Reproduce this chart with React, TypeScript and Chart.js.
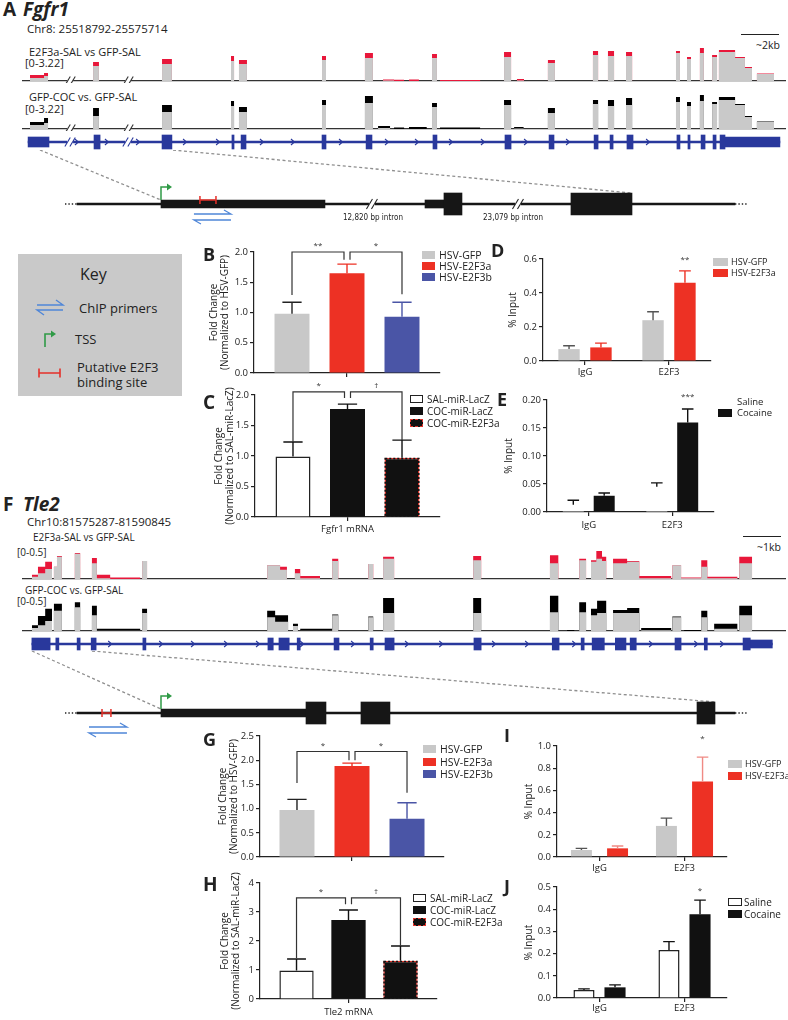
import React, { useEffect, useRef } from 'react';
import { Chart, registerables } from 'chart.js';

Chart.register(...registerables);

const FONT = '"Open Sans", "DejaVu Sans", Arial, sans-serif';
Chart.defaults.font.family = FONT;
Chart.defaults.color = '#222';

// ---------------- colours ----------------
const GRAY = '#c8c8c8';
const RED = '#ed3124';
const BLUE = '#4a55a6';
const BLACK = '#111111';
const IGV_BLUE = '#29389c';
const TRACK_GRAY = '#c9c9c9';
const TRACK_RED = '#e8173a';

// ================= PANEL A: Fgfr1 (IGV window, x in kb, signal in track units) =================
const fgfr1WindowKb = 40.21;
const fgfr1TrackMax = 3.22;
// [start kb, end kb, GFP-SAL signal, comparison signal]
const fgfr1E2f3aPeaks = [
  [0.42, 1.16, 0.28, 0.57], [1.16, 1.37, 0.47, 0.76], [3.74, 4.05, 1.42, 1.8], [7.37, 7.89, 1.61, 2.08],
  [11.0, 11.16, 1.89, 2.37], [11.42, 11.84, 1.61, 1.99], [15.79, 16.0, 1.99, 2.37], [18.05, 18.47, 2.18, 2.65],
  [19.0, 19.58, 0.05, 0.14], [19.58, 20.11, 0, 0.12], [20.37, 20.89, 0, 0.14], [21.58, 21.84, 2.18, 2.56],
  [22.0, 24.11, 0, 0.1], [25.37, 25.74, 2.27, 2.75], [26.05, 26.42, 0.05, 0.19], [27.68, 28.05, 1.7, 1.99],
  [30.05, 30.32, 2.46, 2.84], [30.84, 31.16, 2.37, 2.84], [31.79, 32.11, 2.37, 2.75], [34.42, 34.63, 2.65, 2.84],
  [35.0, 35.21, 2.08, 2.27], [35.68, 35.89, 2.65, 3.12], [36.32, 36.58, 2.27, 2.46], [36.68, 37.53, 2.75, 2.94],
  [37.53, 38.05, 2.18, 2.27], [38.05, 38.42, 1.23, 1.33], [38.68, 39.58, 0.66, 0.71],
];
const fgfr1CocPeaks = [
  [0.42, 1.16, 0.38, 0.66], [1.16, 1.37, 0.57, 1.04], [3.74, 4.05, 1.23, 1.99], [7.37, 7.89, 1.61, 2.27],
  [11.0, 11.16, 2.18, 2.65], [11.42, 11.84, 1.61, 2.08], [15.79, 16.0, 2.27, 2.75], [18.05, 18.47, 2.46, 3.12],
  [18.74, 19.37, 0.09, 0.28], [19.58, 20.11, 0, 0.14], [20.37, 21.3, 0, 0.19], [21.58, 21.84, 2.08, 2.46],
  [22.0, 24.11, 0, 0.15], [25.37, 25.74, 2.27, 2.75], [25.9, 26.4, 0.05, 0.19], [27.68, 28.05, 1.52, 1.99],
  [30.05, 30.32, 2.37, 2.75], [30.84, 31.16, 2.18, 2.75], [31.79, 32.11, 2.27, 2.94], [34.42, 34.63, 2.56, 3.03],
  [35.0, 35.21, 2.18, 2.56], [35.68, 35.89, 2.65, 3.22], [36.32, 36.58, 2.37, 2.56], [36.68, 37.53, 2.75, 3.03],
  [37.53, 38.05, 2.27, 2.37], [38.05, 38.42, 1.14, 1.23], [38.68, 39.58, 0.66, 0.71],
];
const fgfr1Exons = [
  [3.79, 4.11], [7.37, 7.89], [11.05, 11.16], [11.53, 11.79], [15.79, 16.0], [18.11, 18.42], [21.63, 21.84],
  [25.42, 25.74], [27.74, 28.0], [30.11, 30.32], [30.95, 31.11], [31.84, 32.16], [34.47, 34.63], [35.05, 35.16],
  [35.74, 35.95], [36.37, 36.53], [36.74, 37.0],
];
const fgfr1Utrs = [[0.32, 1.42], [37.0, 39.89]];
const fgfr1GeneSpan = [0.32, 39.89];
const fgfr1StrandMarks = [2.89, 4.47, 6.11, 8.58, 10.32, 12.63, 14.26, 16.79, 19.21, 20.79, 22.58, 24.26, 26.53, 28.74, 32.95];
const fgfr1AxisBreaks = [2.53, 5.58];

// ================= PANEL F: Tle2 =================
const tle2WindowKb = 20.1;
const tle2TrackMax = 0.5;
const tle2E2f3aPeaks = [
  [0.26, 0.42, 0.03, 0.06], [0.42, 0.61, 0.08, 0.17], [0.61, 0.79, 0.14, 0.24], [0.84, 0.92, 0.17, 0.17],
  [0.92, 1.05, 0.31, 0.32], [1.39, 1.53, 0.35, 0.36], [1.84, 1.97, 0.22, 0.29], [1.97, 2.32, 0.01, 0.06],
  [2.32, 3.11, 0, 0.02], [3.16, 3.29, 0.25, 0.25], [6.45, 6.79, 0.19, 0.19], [6.79, 6.97, 0.13, 0.17],
  [7.18, 7.32, 0.08, 0.14], [7.32, 7.84, 0.01, 0.04], [8.16, 8.32, 0.25, 0.28], [9.11, 9.24, 0.21, 0.21],
  [9.5, 9.79, 0.28, 0.31], [11.87, 12.08, 0.26, 0.32], [13.89, 14.11, 0.22, 0.33], [14.66, 14.84, 0.26, 0.28],
  [14.97, 15.11, 0.24, 0.26], [15.11, 15.26, 0.28, 0.39], [15.26, 15.37, 0.25, 0.31], [15.55, 15.92, 0.22, 0.28],
  [15.92, 16.24, 0.24, 0.25], [16.24, 17.08, 0.01, 0.04], [17.11, 17.34, 0.19, 0.19], [17.34, 17.87, 0.01, 0.02],
  [17.87, 18.03, 0.17, 0.26], [18.03, 18.82, 0.01, 0.03], [18.87, 19.21, 0.22, 0.31],
];
const tle2CocPeaks = [
  [0.26, 0.42, 0.04, 0.08], [0.42, 0.61, 0.08, 0.21], [0.61, 0.79, 0.14, 0.31], [0.84, 1.05, 0.28, 0.38],
  [1.39, 1.53, 0.33, 0.4], [1.84, 1.97, 0.22, 0.35], [1.97, 3.11, 0.005, 0.03], [3.16, 3.29, 0.25, 0.31],
  [6.45, 6.66, 0.19, 0.28], [6.66, 7.0, 0.13, 0.22], [7.13, 7.26, 0.07, 0.1], [7.32, 8.16, 0.005, 0.03],
  [8.16, 8.32, 0.22, 0.23], [9.11, 9.24, 0.19, 0.2], [9.5, 9.79, 0.25, 0.46], [11.87, 12.08, 0.25, 0.46],
  [13.89, 14.11, 0.26, 0.49], [14.34, 14.53, 0, 0.015], [14.66, 14.84, 0.26, 0.4], [14.97, 15.13, 0.22, 0.31],
  [15.13, 15.37, 0.25, 0.42], [15.55, 15.92, 0.25, 0.29], [15.92, 16.24, 0.25, 0.32], [16.29, 17.08, 0.01, 0.04],
  [17.11, 17.34, 0.19, 0.2], [17.42, 17.87, 0, 0.014], [17.87, 18.03, 0.19, 0.28], [18.21, 18.82, 0.03, 0.1],
  [18.87, 19.21, 0.22, 0.35],
];
const tle2Exons = [
  [0.26, 0.74], [0.89, 0.97], [1.45, 1.53], [1.82, 1.95], [3.18, 3.26], [6.47, 6.61], [6.76, 7.03], [7.24, 7.32],
  [8.21, 8.34], [9.16, 9.24], [9.55, 9.79], [11.89, 12.08], [13.95, 14.13], [14.71, 14.79], [15.0, 15.32],
  [15.61, 15.89], [16.0, 16.16], [17.18, 17.34], [17.95, 18.03], [18.97, 19.16],
];
const tle2Utrs = [[19.16, 19.74]];
const tle2GeneSpan = [0.26, 19.74];
const tle2StrandMarks = [2.32, 3.66, 4.5, 5.37, 6.21, 7.37, 8.71, 10.13, 11.03, 12.42, 13.29, 14.53, 16.55, 17.74, 18.42];

// ================= zoomed gene diagrams (schematic units) =================
const diagramRange = [-8.06, 104.84];
const diagramDots = [0, 100];
const fgfr1DiagramSpan = [1.76, 98.24];
const fgfr1DiagramThin = [[14.08, 38.12], [52.79, 55.57]];
const fgfr1DiagramThick = [[55.57, 58.21], [74.19, 83.14]];
const fgfr1DiagramBreaks = [45.01, 66.42];
const fgfr1DiagramTss = 14.08;
const fgfr1DiagramSite = [19.79, 22.14];
const fgfr1DiagramPrimers = [18.91, 24.34];
const fgfr1IntronLabels = ['12,820 bp intron', '23,079 bp intron'];
const fgfr1IntronLabelAt = [45.16, 65.69];
const fgfr1ZoomFrom = [-3.67, 15.84];
const fgfr1ZoomTo = [14.08, 83.14];

const tle2DiagramSpan = [1.76, 98.24];
const tle2DiagramThin = [[14.08, 35.34]];
const tle2DiagramThick = [[35.34, 38.27], [43.4, 47.65], [92.67, 95.31]];
const tle2DiagramTss = 14.08;
const tle2DiagramSite = [5.43, 6.74];
const tle2DiagramPrimers = [3.52, 9.09];
const tle2ZoomFrom = [-4.84, 3.96];
const tle2ZoomTo = [14.08, 95.31];

// ================= bar panels =================
const hsv3Series = ['HSV-GFP', 'HSV-E2F3a', 'HSV-E2F3b'];
const mir3Series = ['SAL-miR-LacZ', 'COC-miR-LacZ', 'COC-miR-E2F3a'];
const hsv2Series = ['HSV-GFP', 'HSV-E2F3a'];
const drugSeries = ['Saline', 'Cocaine'];
const chipGroups = ['IgG', 'E2F3'];

const panelBGroups = [''];
const panelBMeans = [[0.98], [1.65], [0.93]];
const panelBErrTop = [[1.17], [1.8], [1.17]];

const panelCGroups = ['Fgfr1 mRNA'];
const panelCMeans = [[0.99], [1.77], [0.97]];
const panelCErrTop = [[1.23], [1.85], [1.26]];

const panelDMeans = [[0.07, 0.24], [0.08, 0.46]];
const panelDErrTop = [[0.09, 0.29], [0.105, 0.53]];

const panelEMeans = [[0.013, 0.045], [0.029, 0.16]];
const panelEErrTop = [[0.021, 0.052], [0.034, 0.184]];

const panelGGroups = [''];
const panelGMeans = [[0.97], [1.88], [0.79]];
const panelGErrTop = [[1.19], [1.94], [1.12]];

const panelHGroups = ['Tle2 mRNA'];
const panelHMeans = [[0.98], [2.72], [1.32]];
const panelHErrTop = [[1.38], [3.07], [1.83]];

const panelIMeans = [[0.063, 0.28], [0.078, 0.68]];
const panelIErrTop = [[0.078, 0.35], [0.099, 0.9]];

const panelJMeans = [[0.036, 0.216], [0.048, 0.377]];
const panelJErrTop = [[0.041, 0.254], [0.059, 0.441]];

// ---------------- helpers ----------------
function drawBreak(ctx: CanvasRenderingContext2D, p: number, y: number, color: string, h: number) {
  ctx.save();
  ctx.fillStyle = '#fff';
  ctx.fillRect(p - 3, y - 2, 6, 4);
  ctx.strokeStyle = color;
  ctx.lineWidth = 1.1;
  ctx.setLineDash([]);
  for (const d of [-2.5, 2.5]) {
    ctx.beginPath();
    ctx.moveTo(p + d - h * 0.3, y + h / 2);
    ctx.lineTo(p + d + h * 0.3, y - h / 2);
    ctx.stroke();
  }
  ctx.restore();
}

const base = { animation: false, responsive: false, maintainAspectRatio: false, devicePixelRatio: 1 };
const noPlugins = { legend: { display: false }, tooltip: { enabled: false } };

function trackConfig(peaks: number[][], color: string, yMax: number, kMax: number, breaks: number[]) {
  const under: any[] = [];
  const over: any[] = [];
  for (const [s, e, g, t] of peaks) {
    under.push({ x: s, y: 0 }, { x: s, y: g }, { x: e, y: g }, { x: e, y: 0 });
    over.push({ x: s, y: 0 }, { x: s, y: t }, { x: e, y: t }, { x: e, y: 0 });
  }
  const common = { pointRadius: 0, borderWidth: 0, borderColor: 'rgba(0,0,0,0)', fill: 'origin', tension: 0 };
  return {
    type: 'line',
    data: {
      datasets: [
        { ...common, label: 'GFP-SAL', data: under, backgroundColor: TRACK_GRAY },
        { ...common, label: 'comparison', data: over, backgroundColor: color },
      ],
    },
    options: {
      ...base,
      layout: { padding: { top: 0, left: 0, right: 0, bottom: 2 } },
      plugins: noPlugins,
      scales: {
        x: {
          type: 'linear', min: 0, max: kMax,
          grid: { display: false }, ticks: { display: false },
          border: { display: true, color: '#333', width: 1.3 },
          afterFit: (sc: any) => { sc.height = 0; },
        },
        y: { type: 'linear', min: 0, max: yMax, display: false },
      },
    },
    plugins: [{
      id: 'trackBreaks',
      afterDraw(chart: any) {
        const x = chart.scales.x;
        breaks.forEach((k) => drawBreak(chart.ctx, x.getPixelForValue(k), chart.chartArea.bottom, '#333', 9));
      },
    }],
  };
}

function geneConfig(exons: number[][], utrs: number[][], span: number[], kMax: number, marks: number[], breaks: number[], exonH: number, utrH: number) {
  const row = 'gene';
  const bars = (a: number[][]) => a.map(([s, e]) => ({ x: [s, e], y: row }));
  const ds = (data: any[], th: number) => ({ data, backgroundColor: IGV_BLUE, barThickness: th, grouped: false, borderWidth: 0 });
  return {
    type: 'bar',
    data: { labels: [row], datasets: [ds(bars(exons), exonH), ds(bars(utrs), utrH), ds(bars([span]), 1.6)] },
    options: {
      ...base,
      indexAxis: 'y',
      plugins: noPlugins,
      scales: {
        x: { type: 'linear', min: 0, max: kMax, display: false },
        y: { type: 'category', display: false },
      },
    },
    plugins: [{
      id: 'strand',
      afterDatasetsDraw(chart: any) {
        const { ctx, chartArea } = chart;
        const x = chart.scales.x;
        const cy = (chartArea.top + chartArea.bottom) / 2;
        ctx.save();
        ctx.strokeStyle = IGV_BLUE;
        ctx.lineWidth = 1.1;
        marks.forEach((k) => {
          const p = x.getPixelForValue(k);
          ctx.beginPath();
          ctx.moveTo(p - 2, cy - 3);
          ctx.lineTo(p + 1.5, cy);
          ctx.lineTo(p - 2, cy + 3);
          ctx.stroke();
        });
        ctx.restore();
        breaks.forEach((k) => drawBreak(ctx, x.getPixelForValue(k), cy, IGV_BLUE, 9));
      },
    }],
  };
}

function diagramConfig(d: any) {
  const row = 'diagram';
  const bars = (a: number[][]) => a.map(([s, e]) => ({ x: [s, e], y: row }));
  const ds = (data: any[], th: number) => ({ data, backgroundColor: '#161616', barThickness: th, grouped: false, borderWidth: 0 });
  return {
    type: 'bar',
    data: { labels: [row], datasets: [ds(bars(d.thick), 22), ds(bars(d.thin), 8), ds(bars([d.span]), 1.6)] },
    options: {
      ...base,
      indexAxis: 'y',
      layout: { padding: { left: 10, right: 8, top: d.padTop, bottom: 2 } },
      plugins: noPlugins,
      scales: {
        x: { type: 'linear', min: diagramRange[0], max: diagramRange[1], display: false },
        y: { type: 'category', display: false },
      },
    },
    plugins: [{
      id: 'diagramDeco',
      beforeDatasetsDraw(chart: any) {
        const { ctx, chartArea } = chart;
        const x = chart.scales.x;
        const px = (u: number) => x.getPixelForValue(u);
        const cy = (chartArea.top + chartArea.bottom) / 2;
        ctx.save();
        ctx.strokeStyle = '#8f8f8f';
        ctx.lineWidth = 1.3;
        ctx.setLineDash([3, 2.5]);
        ctx.beginPath();
        ctx.moveTo(px(d.zoomFrom[0]), 0);
        ctx.lineTo(px(d.zoomTo[0]), cy - 4);
        ctx.stroke();
        ctx.beginPath();
        ctx.moveTo(px(d.zoomFrom[1]), 0);
        ctx.lineTo(px(d.zoomTo[1]), cy - 11);
        ctx.stroke();
        ctx.restore();
      },
      afterDatasetsDraw(chart: any) {
        const { ctx, chartArea } = chart;
        const x = chart.scales.x;
        const px = (u: number) => x.getPixelForValue(u);
        const cy = (chartArea.top + chartArea.bottom) / 2;
        ctx.save();
        // dotted continuation
        ctx.strokeStyle = '#222';
        ctx.lineWidth = 1.6;
        ctx.setLineDash([1.4, 2]);
        ctx.beginPath();
        ctx.moveTo(px(diagramDots[0]), cy);
        ctx.lineTo(px(d.span[0]), cy);
        ctx.moveTo(px(d.span[1]), cy);
        ctx.lineTo(px(diagramDots[1]), cy);
        ctx.stroke();
        ctx.setLineDash([]);
        (d.breaks || []).forEach((u: number) => drawBreak(ctx, px(u), cy, '#222', 10));
        // TSS
        const t = px(d.tss);
        ctx.strokeStyle = '#2f9a46';
        ctx.fillStyle = '#2f9a46';
        ctx.lineWidth = 1.5;
        ctx.beginPath();
        ctx.moveTo(t, cy - 4);
        ctx.lineTo(t, cy - 17);
        ctx.lineTo(t + 7, cy - 17);
        ctx.stroke();
        ctx.beginPath();
        ctx.moveTo(t + 6, cy - 20.5);
        ctx.lineTo(t + 11, cy - 17);
        ctx.lineTo(t + 6, cy - 13.5);
        ctx.closePath();
        ctx.fill();
        // binding site
        const s1 = px(d.site[0]);
        const s2 = px(d.site[1]);
        const sy = cy + d.siteDy;
        ctx.strokeStyle = '#e5302a';
        ctx.lineWidth = 1.5;
        ctx.beginPath();
        ctx.moveTo(s1, sy); ctx.lineTo(s2, sy);
        ctx.moveTo(s1, sy - 4); ctx.lineTo(s1, sy + 4);
        ctx.moveTo(s2, sy - 4); ctx.lineTo(s2, sy + 4);
        ctx.stroke();
        // primers
        const a = px(d.primers[0]);
        const b = px(d.primers[1]);
        const y1 = cy + d.primerDy;
        const y2 = y1 + 6;
        ctx.strokeStyle = '#4f86d8';
        ctx.lineWidth = 1.3;
        ctx.beginPath();
        ctx.moveTo(a, y1); ctx.lineTo(b, y1); ctx.lineTo(b - 7, y1 - 4);
        ctx.moveTo(b, y2); ctx.lineTo(a, y2); ctx.lineTo(a + 7, y2 + 4);
        ctx.stroke();
        // intron labels
        ctx.fillStyle = '#222';
        ctx.font = '8px "DejaVu Sans Condensed", "Liberation Sans Narrow", ' + FONT;
        ctx.textAlign = 'center';
        ctx.textBaseline = 'middle';
        (d.labels || []).forEach((txt: string, i: number) => ctx.fillText(txt, px(d.labelAt[i]), cy + 14));
        ctx.restore();
      },
    }],
  };
}

function barConfig(s: any) {
  return {
    type: 'bar',
    data: {
      labels: s.labels,
      datasets: s.series.map((r: any) => ({
        label: r.label,
        data: r.data,
        backgroundColor: r.bg,
        borderColor: r.border || r.bg,
        borderWidth: r.border ? 1.5 : 0,
      })),
    },
    options: {
      ...base,
      layout: { padding: { top: s.pt, right: s.pr, left: 0, bottom: 0 } },
      datasets: { bar: { categoryPercentage: s.catPct, barPercentage: s.barPct } },
      plugins: noPlugins,
      scales: {
        x: {
          type: 'category',
          grid: { display: true, drawOnChartArea: false, drawTicks: true, tickLength: 4, color: '#222', lineWidth: 1.2, offset: false },
          border: { display: true, color: '#222', width: 1.2 },
          ticks: { font: { size: 9.5 }, color: '#222', padding: s.xPad, maxRotation: 0, autoSkip: false },
          afterFit: (sc: any) => { sc.height = s.xh; },
        },
        y: {
          type: 'linear', min: 0, max: s.yMax,
          grid: { display: true, drawOnChartArea: false, drawTicks: true, tickLength: 4, color: '#222', lineWidth: 1.2 },
          border: { display: true, color: '#222', width: 1.2 },
          ticks: { stepSize: s.yStep, font: { size: 9.5 }, color: '#222', padding: 2, callback: (v: any) => Number(v).toFixed(s.dec) },
          title: { display: true, text: s.yTitle, font: { size: 10, lineHeight: 1.1 }, color: '#222', padding: 0 },
          afterFit: (sc: any) => { sc.width = s.yw; },
        },
      },
    },
    plugins: [{
      id: 'barDeco',
      afterDatasetsDraw(chart: any) {
        const ctx = chart.ctx;
        const ys = chart.scales.y;
        const barAt = (d: number, i: number) => chart.getDatasetMeta(d).data[i];
        ctx.save();
        s.series.forEach((r: any, d: number) => {
          chart.getDatasetMeta(d).data.forEach((bar: any, i: number) => {
            const { x, y, base: b0, width } = bar.getProps(['x', 'y', 'base', 'width'], true);
            if (r.dashed) {
              ctx.save();
              ctx.strokeStyle = '#111';
              ctx.lineWidth = 1.6;
              ctx.setLineDash([2, 2]);
              ctx.strokeRect(x - width / 2 + 0.75, y + 0.75, width - 1.5, b0 - y - 1.5);
              ctx.restore();
            }
            const top = r.errTop[i];
            if (top != null) {
              const ey = ys.getPixelForValue(top);
              const cap = width * 0.55;
              ctx.strokeStyle = r.errColor;
              ctx.lineWidth = 1.4;
              ctx.beginPath();
              ctx.moveTo(x, y);
              ctx.lineTo(x, ey);
              ctx.moveTo(x - cap / 2, ey);
              ctx.lineTo(x + cap / 2, ey);
              ctx.stroke();
            }
          });
        });
        ctx.fillStyle = '#333';
        ctx.font = '8px ' + FONT;
        ctx.textAlign = 'center';
        ctx.textBaseline = 'bottom';
        (s.brackets || []).forEach((bk: any) => {
          const a = barAt(bk.from[0], bk.from[1]).x + (bk.offFrom || 0);
          const c = barAt(bk.to[0], bk.to[1]).x + (bk.offTo || 0);
          const ly = ys.getPixelForValue(bk.level);
          ctx.strokeStyle = '#333';
          ctx.lineWidth = 1.2;
          ctx.beginPath();
          ctx.moveTo(a, ys.getPixelForValue(bk.dropFrom));
          ctx.lineTo(a, ly);
          ctx.lineTo(c, ly);
          ctx.lineTo(c, ys.getPixelForValue(bk.dropTo));
          ctx.stroke();
          ctx.fillText(bk.label, (a + c) / 2, ly - 2);
        });
        (s.marks || []).forEach((m: any) => {
          const bar = barAt(m.ds, m.idx);
          ctx.fillText(m.text, bar.x, ys.getPixelForValue(m.value));
        });
        ctx.restore();
      },
    }],
  };
}

function ChartBox({ box, config }: { box: number[]; config: any }) {
  const ref = useRef<HTMLCanvasElement>(null);
  useEffect(() => {
    const chart = new Chart(ref.current as HTMLCanvasElement, config);
    return () => chart.destroy();
  }, []);
  const [l, t, w, h] = box;
  return <canvas ref={ref} width={w} height={h} style={{ position: 'absolute', left: l, top: t, width: w, height: h }} />;
}

function BarPanel({ s }: { s: any }) {
  const box = [s.L - s.yw, s.T - s.pt, s.R - s.L + s.yw + s.pr, s.B - s.T + s.pt + s.xh];
  return <ChartBox box={box} config={barConfig(s)} />;
}

function Txt({ x, y, size, bold, italic, children, color, family }: any) {
  const lh = Math.round(size * 1.3);
  return (
    <div style={{
      position: 'absolute', left: x, top: y - lh / 2, fontSize: size, lineHeight: lh + 'px',
      fontWeight: bold ? 700 : 400, fontStyle: italic ? 'italic' : 'normal', whiteSpace: 'nowrap',
      color: color || '#222', fontFamily: family || FONT,
    }}>{children}</div>
  );
}

function Legend({ x, tx, ys, rows, size, sw = 13, sh = 8 }: any) {
  return (
    <>
      {rows.map((r: any, i: number) => (
        <React.Fragment key={i}>
          <div style={{ position: 'absolute', left: x, top: ys[i] - sh / 2, width: sw, height: sh, background: r.bg, border: r.border || 'none', boxSizing: 'border-box' }} />
          <Txt x={tx} y={ys[i]} size={size}>{r.label}</Txt>
        </React.Fragment>
      ))}
    </>
  );
}

// ---------------- panel specs ----------------
const hsvFill = [GRAY, RED, BLUE];
const hsvErr = ['#222', RED, BLUE];
const mirFill = ['#fff', BLACK, BLACK];
const mirBorder = ['#222', undefined, '#e0342c'];

const specB = {
  L: 254, T: 252, R: 440, B: 373, yw: 45, xh: 8, pt: 14, pr: 4, xPad: 2,
  labels: panelBGroups, yMax: 2, yStep: 0.5, dec: 1, catPct: 0.887, barPct: 0.636,
  yTitle: ['Fold Change', '(Normalized to HSV-GFP)'],
  series: hsv3Series.map((label, i) => ({ label, data: panelBMeans[i], errTop: panelBErrTop[i], bg: hsvFill[i], errColor: hsvErr[i] })),
  brackets: [
    { from: [0, 0], to: [1, 0], offTo: -3, level: 2.0, dropFrom: 1.29, dropTo: 1.87, label: '**' },
    { from: [1, 0], offFrom: 3, to: [2, 0], level: 2.0, dropFrom: 1.87, dropTo: 1.3, label: '*' },
  ],
};
const specC = {
  L: 255, T: 395, R: 440, B: 517, yw: 41, xh: 20, pt: 14, pr: 4, xPad: 3,
  labels: panelCGroups, yMax: 2, yStep: 0.5, dec: 1, catPct: 0.884, barPct: 0.642,
  yTitle: ['Fold Change', '(Normalized to SAL-miR-LacZ)'],
  series: mir3Series.map((label, i) => ({ label, data: panelCMeans[i], errTop: panelCErrTop[i], bg: mirFill[i], border: mirBorder[i], errColor: '#111', dashed: i === 2 })),
  brackets: [
    { from: [0, 0], to: [1, 0], offTo: -3, level: 2.05, dropFrom: 1.23, dropTo: 1.95, label: '*' },
    { from: [1, 0], offFrom: 3, to: [2, 0], level: 2.05, dropFrom: 1.95, dropTo: 1.26, label: '†' },
  ],
};
const specD = {
  L: 543, T: 259, R: 711, B: 361, yw: 35, xh: 18, pt: 14, pr: 4, xPad: 2,
  labels: chipGroups, yMax: 0.6, yStep: 0.2, dec: 1, catPct: 0.76, barPct: 0.67,
  yTitle: '% Input',
  series: hsv2Series.map((label, i) => ({ label, data: panelDMeans[i], errTop: panelDErrTop[i], bg: hsvFill[i], errColor: ['#555', RED][i] })),
  marks: [{ ds: 1, idx: 1, value: 0.575, text: '**' }],
};
const specE = {
  L: 547, T: 400, R: 714, B: 512, yw: 43, xh: 20, pt: 14, pr: 4, xPad: 4,
  labels: chipGroups, yMax: 0.2, yStep: 0.05, dec: 2, catPct: 0.74, barPct: 0.68,
  yTitle: '% Input',
  series: drugSeries.map((label, i) => ({ label, data: panelEMeans[i], errTop: panelEErrTop[i], bg: ['#fff', BLACK][i], errColor: '#111' })),
  marks: [{ ds: 1, idx: 1, value: 0.198, text: '***' }],
};
const specG = {
  L: 260, T: 736, R: 444, B: 857, yw: 42, xh: 8, pt: 14, pr: 4, xPad: 2,
  labels: panelGGroups, yMax: 2.5, yStep: 0.5, dec: 1, catPct: 0.897, barPct: 0.636,
  yTitle: ['Fold Change', '(Normalized to HSV-GFP)'],
  series: hsv3Series.map((label, i) => ({ label, data: panelGMeans[i], errTop: panelGErrTop[i], bg: hsvFill[i], errColor: hsvErr[i] })),
  brackets: [
    { from: [0, 0], to: [1, 0], offTo: -3, level: 2.18, dropFrom: 1.53, dropTo: 2.0, label: '*' },
    { from: [1, 0], offFrom: 3, to: [2, 0], level: 2.18, dropFrom: 2.0, dropTo: 1.33, label: '*' },
  ],
};
const specH = {
  L: 260, T: 883, R: 437, B: 999, yw: 40, xh: 21, pt: 14, pr: 4, xPad: 4,
  labels: panelHGroups, yMax: 4, yStep: 1, dec: 0, catPct: 0.881, barPct: 0.66,
  yTitle: ['Fold Change', '(Normalized to SAL-miR-LacZ)'],
  series: mir3Series.map((label, i) => ({ label, data: panelHMeans[i], errTop: panelHErrTop[i], bg: mirFill[i], border: mirBorder[i], errColor: '#111', dashed: i === 2 })),
  brackets: [
    { from: [0, 0], to: [1, 0], offTo: -3, level: 3.49, dropFrom: 1.41, dropTo: 3.27, label: '*' },
    { from: [1, 0], offFrom: 3, to: [2, 0], level: 3.49, dropFrom: 3.27, dropTo: 1.83, label: '†' },
  ],
};
const specI = {
  L: 557, T: 746, R: 727, B: 857, yw: 33, xh: 18, pt: 14, pr: 4, xPad: 2,
  labels: chipGroups, yMax: 1, yStep: 0.2, dec: 1, catPct: 0.85, barPct: 0.58,
  yTitle: '% Input',
  series: hsv2Series.map((label, i) => ({ label, data: panelIMeans[i], errTop: panelIErrTop[i], bg: hsvFill[i], errColor: ['#555', '#f08a84'][i] })),
  marks: [{ ds: 1, idx: 1, value: 1.03, text: '*' }],
};
const specJ = {
  L: 557, T: 887, R: 727, B: 998, yw: 33, xh: 16, pt: 14, pr: 4, xPad: 1,
  labels: chipGroups, yMax: 0.5, yStep: 0.1, dec: 1, catPct: 0.73, barPct: 0.68,
  yTitle: '% Input',
  series: drugSeries.map((label, i) => ({ label, data: panelJMeans[i], errTop: panelJErrTop[i], bg: ['#fff', BLACK][i], border: ['#222', undefined][i], errColor: '#111' })),
  marks: [{ ds: 1, idx: 1, value: 0.465, text: '*' }],
};

const fgfr1DiagramSpec = {
  span: fgfr1DiagramSpan, thin: fgfr1DiagramThin, thick: fgfr1DiagramThick, breaks: fgfr1DiagramBreaks,
  tss: fgfr1DiagramTss, site: fgfr1DiagramSite, siteDy: -4, primers: fgfr1DiagramPrimers, primerDy: 10,
  labels: fgfr1IntronLabels, labelAt: fgfr1IntronLabelAt, zoomFrom: fgfr1ZoomFrom, zoomTo: fgfr1ZoomTo, padTop: 30,
};
const tle2DiagramSpec = {
  span: tle2DiagramSpan, thin: tle2DiagramThin, thick: tle2DiagramThick, breaks: [],
  tss: tle2DiagramTss, site: tle2DiagramSite, siteDy: 0, primers: tle2DiagramPrimers, primerDy: 14,
  labels: [], labelAt: [], zoomFrom: tle2ZoomFrom, zoomTo: tle2ZoomTo, padTop: 36,
};

const swatch = (bg: string, border?: string) => ({ bg, border });

export default function App() {
  return (
    <div style={{ position: 'absolute', left: 0, top: 0, width: 788, height: 1020, background: '#fff', overflow: 'hidden', fontFamily: FONT, color: '#222' }}>
      {/* ---------- Panel A ---------- */}
      <Txt x={3} y={9} size={19} bold>A</Txt>
      <Txt x={23} y={9} size={19} bold italic>Fgfr1</Txt>
      <Txt x={27} y={28} size={11.5}>Chr8: 25518792-25575714</Txt>
      <Txt x={29} y={52} size={11}>E2F3a-SAL vs GFP-SAL</Txt>
      <Txt x={25} y={63} size={11}>[0-3.22]</Txt>
      <Txt x={29} y={97} size={11}>GFP-COC vs. GFP-SAL</Txt>
      <Txt x={25} y={109} size={11}>[0-3.22]</Txt>
      <div style={{ position: 'absolute', left: 741, top: 34, width: 38, height: 0, borderTop: '1.5px solid #222' }} />
      <Txt x={756} y={45} size={10.5}>~2kb</Txt>
      <ChartBox box={[22, 47, 764, 36]} config={trackConfig(fgfr1E2f3aPeaks, TRACK_RED, fgfr1TrackMax, fgfr1WindowKb, fgfr1AxisBreaks)} />
      <ChartBox box={[22, 95, 764, 36]} config={trackConfig(fgfr1CocPeaks, '#000', fgfr1TrackMax, fgfr1WindowKb, fgfr1AxisBreaks)} />
      <ChartBox box={[22, 132, 764, 20]} config={geneConfig(fgfr1Exons, fgfr1Utrs, fgfr1GeneSpan, fgfr1WindowKb, fgfr1StrandMarks, fgfr1AxisBreaks, 14, 10)} />
      <ChartBox box={[0, 150, 788, 80]} config={diagramConfig(fgfr1DiagramSpec)} />

      {/* ---------- Key ---------- */}
      <div style={{ position: 'absolute', left: 18, top: 254, width: 164, height: 142, background: '#c9c9c9' }} />
      <Txt x={80} y={274} size={16}>Key</Txt>
      <Txt x={79} y={308} size={13}>ChIP primers</Txt>
      <Txt x={75} y={339} size={13}>TSS</Txt>
      <Txt x={77} y={367} size={13}>Putative E2F3</Txt>
      <Txt x={77} y={382} size={13}>binding site</Txt>
      <svg style={{ position: 'absolute', left: 0, top: 0 }} width={200} height={400}>
        <path d="M37 305 H63 L56 300 M63 310 H37 L44 315" stroke="#4f86d8" strokeWidth={1.4} fill="none" />
        <path d="M45 347 V334 H52" stroke="#2f9a46" strokeWidth={1.6} fill="none" />
        <path d="M51 330.5 L56 334 L51 337.5 Z" fill="#2f9a46" />
        <path d="M39 373 H60 M39 368.5 V377.5 M60 368.5 V377.5" stroke="#e5302a" strokeWidth={1.6} fill="none" />
      </svg>

      {/* ---------- Panel B ---------- */}
      <Txt x={203} y={254} size={18} bold>B</Txt>
      <BarPanel s={specB} />
      <Legend x={422} tx={439} ys={[255, 266, 277]} size={10.5} rows={hsv3Series.map((l, i) => ({ label: l, ...swatch(hsvFill[i]) }))} />

      {/* ---------- Panel C ---------- */}
      <Txt x={203} y={402} size={19} bold>C</Txt>
      <BarPanel s={specC} />
      <Legend x={410} tx={427} ys={[399, 411, 423]} size={10} rows={[
        { label: mir3Series[0], ...swatch('#fff', '1.5px solid #222') },
        { label: mir3Series[1], ...swatch(BLACK) },
        { label: mir3Series[2], ...swatch(BLACK, '1.5px dashed #e0342c') },
      ]} />

      {/* ---------- Panel D ---------- */}
      <Txt x={491} y={250} size={18} bold>D</Txt>
      <BarPanel s={specD} />
      <Legend x={713} tx={731} ys={[262, 273]} size={9} sw={15} rows={hsv2Series.map((l, i) => ({ label: l, ...swatch(hsvFill[i]) }))} />

      {/* ---------- Panel E ---------- */}
      <Txt x={497} y={399} size={18} bold>E</Txt>
      <BarPanel s={specE} />
      <Legend x={718} tx={737} ys={[402, 413]} size={9.5} sw={14} rows={[
        { label: drugSeries[0], ...swatch('#fff') },
        { label: drugSeries[1], ...swatch(BLACK) },
      ]} />

      {/* ---------- Panel F ---------- */}
      <Txt x={3} y={504} size={19} bold>F</Txt>
      <Txt x={23} y={504} size={19} bold italic>Tle2</Txt>
      <Txt x={27} y={521} size={11.5}>Chr10:81575287-81590845</Txt>
      <Txt x={33} y={537} size={10}>E2F3a-SAL vs GFP-SAL</Txt>
      <Txt x={17} y={552} size={10}>[0-0.5]</Txt>
      <Txt x={25} y={590} size={10}>GFP-COC vs. GFP-SAL</Txt>
      <Txt x={17} y={601} size={10}>[0-0.5]</Txt>
      <div style={{ position: 'absolute', left: 743, top: 536, width: 38, height: 0, borderTop: '1.5px solid #222' }} />
      <Txt x={757} y={547} size={10.5}>~1kb</Txt>
      <ChartBox box={[22, 543, 764, 38]} config={trackConfig(tle2E2f3aPeaks, TRACK_RED, tle2TrackMax, tle2WindowKb, [])} />
      <ChartBox box={[22, 595, 764, 38]} config={trackConfig(tle2CocPeaks, '#000', tle2TrackMax, tle2WindowKb, [])} />
      <ChartBox box={[22, 634, 764, 20]} config={geneConfig(tle2Exons, tle2Utrs, tle2GeneSpan, tle2WindowKb, tle2StrandMarks, [], 12, 8)} />
      <ChartBox box={[0, 651, 788, 90]} config={diagramConfig(tle2DiagramSpec)} />

      {/* ---------- Panel G ---------- */}
      <Txt x={203} y={739} size={18} bold>G</Txt>
      <BarPanel s={specG} />
      <Legend x={423} tx={440} ys={[749, 762, 774]} size={10.5} rows={hsv3Series.map((l, i) => ({ label: l, ...swatch(hsvFill[i]) }))} />

      {/* ---------- Panel H ---------- */}
      <Txt x={203} y={884} size={19} bold>H</Txt>
      <BarPanel s={specH} />
      <Legend x={413} tx={430} ys={[898, 910, 922]} size={10} rows={[
        { label: mir3Series[0], ...swatch('#fff', '1.5px solid #222') },
        { label: mir3Series[1], ...swatch(BLACK) },
        { label: mir3Series[2], ...swatch(BLACK, '1.5px dashed #e0342c') },
      ]} />

      {/* ---------- Panel I ---------- */}
      <Txt x={504} y={735} size={18} bold>I</Txt>
      <BarPanel s={specI} />
      <Legend x={728} tx={745} ys={[764, 776]} size={9} sw={14} rows={hsv2Series.map((l, i) => ({ label: l, ...swatch(hsvFill[i]) }))} />

      {/* ---------- Panel J ---------- */}
      <Txt x={504} y={886} size={18} bold>J</Txt>
      <BarPanel s={specJ} />
      <Legend x={728} tx={744} ys={[902, 914]} size={10} sw={14} rows={[
        { label: drugSeries[0], ...swatch('#fff', '1.5px solid #222') },
        { label: drugSeries[1], ...swatch(BLACK) },
      ]} />
    </div>
  );
}
